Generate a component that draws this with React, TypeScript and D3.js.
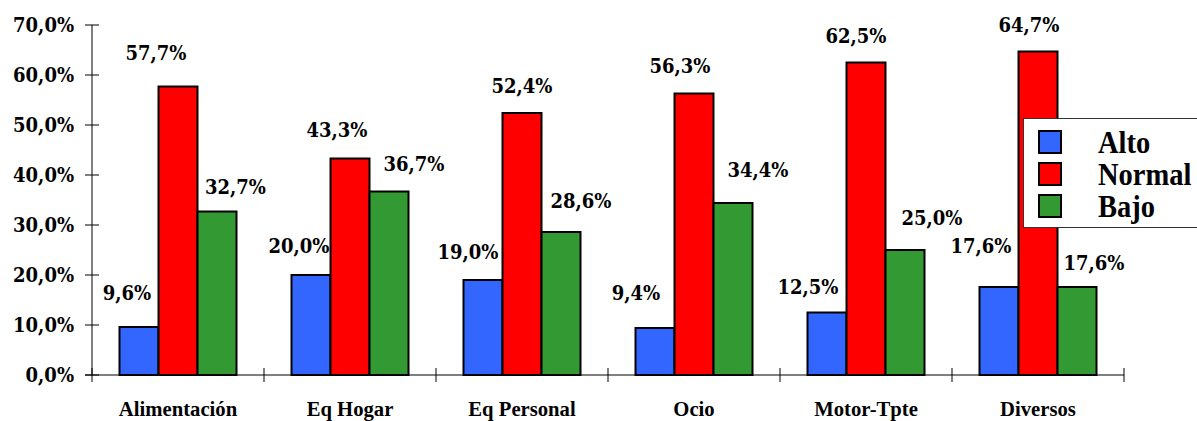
import React from "react";
import * as d3 from "d3";

const categories = ["Alimentación", "Eq Hogar", "Eq Personal", "Ocio", "Motor-Tpte", "Diversos"];
const seriesNames = ["Alto", "Normal", "Bajo"];
const alto = [9.6, 20.0, 19.0, 9.4, 12.5, 17.6];
const normal = [57.7, 43.3, 52.4, 56.3, 62.5, 64.7];
const bajo = [32.7, 36.7, 28.6, 34.4, 25.0, 17.6];
const yTicks = [0, 10, 20, 30, 40, 50, 60, 70];

const seriesValues = [alto, normal, bajo];
const colors = ["#3366FF", "#FF0000", "#339933"];

// label nudges (dx from bar centre, dy baseline from bar top), per series per category
const labelDx = [
  [-12, -12, -15, -19, -19, -18],
  [-22, -13, 0, -14, -10, -9],
  [18.5, 25, 20, 25, 27, 17],
];
const labelDy = [
  [-27, -22, -21, -28, -18.5, -34],
  [-27, -21.5, -20, -20.5, -19.5, -19.5],
  [-17.5, -20.5, -24, -26, -25, -17],
];

const W = 1197;
const H = 421;
const left = 92;
const right = 1124;
const y0 = 375;
const yTop = 25;

const numStyle = { fontFamily: "DejaVu Serif Condensed", fontWeight: 700, fontSize: "20px" };
const catStyle = { fontFamily: "Liberation Serif", fontWeight: 700, fontSize: "22px" };
const legStyle = { fontFamily: "Liberation Serif", fontWeight: 700, fontSize: "31px" };

const fmt = (v: number) => d3.format(".1f")(v).replace(".", ",") + "%";

export default function App() {
  const x = d3.scaleBand<string>().domain(categories).range([left, right]).padding(0);
  const groupW = 117;
  const inner = d3
    .scaleBand<string>()
    .domain(seriesNames)
    .range([(x.bandwidth() - groupW) / 2, (x.bandwidth() + groupW) / 2])
    .padding(0);
  const y = d3.scaleLinear().domain([0, 70]).range([y0, yTop]);

  return (
    <svg
      width={W}
      height={H}
      style={{ position: "absolute", left: 0, top: 0, background: "#fff", fontFamily: "Liberation Serif" }}
    >
      <rect x={0} y={0} width={W} height={H} fill="#fff" />
      {/* y axis */}
      <line x1={left} x2={left} y1={y(70)} y2={y0} stroke="#000" strokeWidth={1} />
      {yTicks.map((t) => (
        <g key={t}>
          <line x1={85} x2={99} y1={y(t)} y2={y(t)} stroke="#000" strokeWidth={1} />
          <text x={74} y={y(t) + 7} textAnchor="end" style={numStyle} fill="#000">
            {fmt(t)}
          </text>
        </g>
      ))}
      {/* x axis */}
      <line x1={85} x2={right} y1={y0} y2={y0} stroke="#000" strokeWidth={1} />
      {categories.map((c) => (
        <line key={"t" + c} x1={x(c)!} x2={x(c)!} y1={368} y2={382} stroke="#000" strokeWidth={1} />
      ))}
      <line x1={right} x2={right} y1={368} y2={382} stroke="#000" strokeWidth={1} />
      {categories.map((c) => (
        <g key={"l" + c} transform={`translate(${x(c)! + x.bandwidth() / 2},416) scale(0.94,1)`}>
          <text x={0} y={0} textAnchor="middle" style={catStyle} fill="#000">
            {c}
          </text>
        </g>
      ))}
      {/* bars */}
      {categories.map((c, ci) =>
        seriesNames.map((s, si) => {
          const v = seriesValues[si][ci];
          const bx = x(c)! + inner(s)!;
          return (
            <rect
              key={c + s}
              x={bx}
              y={y(v)}
              width={inner.bandwidth()}
              height={y0 - y(v)}
              fill={colors[si]}
              stroke="#000"
              strokeWidth={2}
            />
          );
        })
      )}
      {/* labels */}
      {categories.map((c, ci) =>
        seriesNames.map((s, si) => {
          const v = seriesValues[si][ci];
          const cx = x(c)! + inner(s)! + inner.bandwidth() / 2;
          return (
            <text
              key={"v" + c + s}
              x={cx + labelDx[si][ci]}
              y={y(v) + labelDy[si][ci]}
              textAnchor="middle"
              style={numStyle}
              fill="#000"
            >
              {fmt(v)}
            </text>
          );
        })
      )}
      {/* legend */}
      <rect x={1023.5} y={118.5} width={200} height={109} fill="#fff" stroke="#333" strokeWidth={1} />
      {seriesNames.map((s, si) => (
        <g key={"lg" + s} transform={`translate(0,${142 + si * 32})`}>
          <rect x={1039} y={-11} width={22} height={22} fill={colors[si]} stroke="#000" strokeWidth={2} />
          <g transform="translate(1098,11) scale(0.92,1)">
            <text x={0} y={0} style={legStyle} fill="#000">
              {s}
            </text>
          </g>
        </g>
      ))}
    </svg>
  );
}
